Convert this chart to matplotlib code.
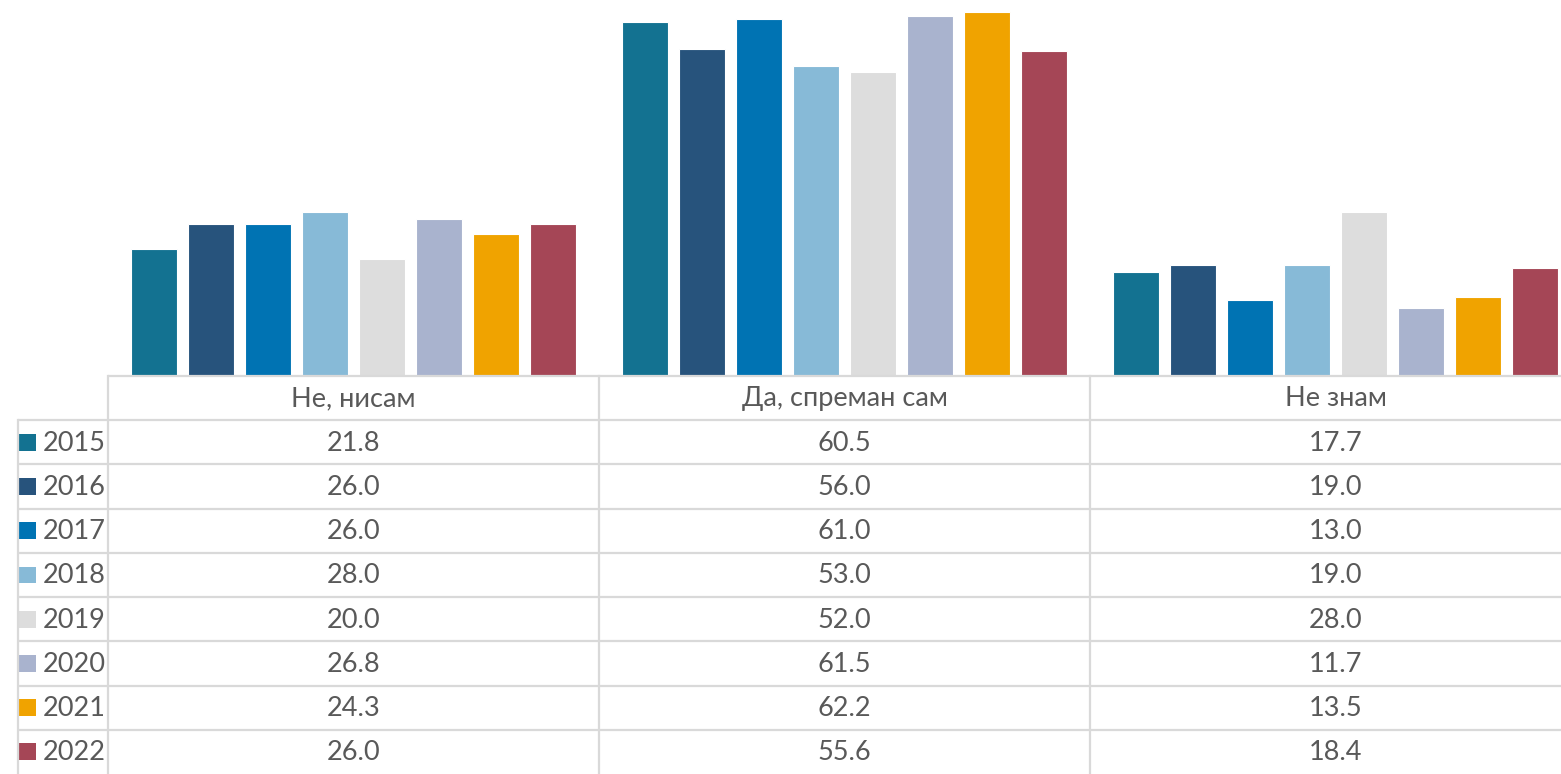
import matplotlib
matplotlib.use("Agg")
import matplotlib.pyplot as plt
import numpy as np

categories = ["Не, нисам", "Да, спреман сам", "Не знам"]
years = ["2015", "2016", "2017", "2018", "2019", "2020", "2021", "2022"]
ne_nisam = [21.8, 26.0, 26.0, 28.0, 20.0, 26.8, 24.3, 26.0]
da_spreman = [60.5, 56.0, 61.0, 53.0, 52.0, 61.5, 62.2, 55.6]
ne_znam = [17.7, 19.0, 13.0, 19.0, 28.0, 11.7, 13.5, 18.4]
colors = ["#137291", "#27537C", "#0073B3", "#87BAD7", "#DDDDDD", "#A9B3CE", "#F0A300", "#A54656"]

series = np.array([ne_nisam, da_spreman, ne_znam]).T  # rows = years

W, H = 1561, 774
fig = plt.figure(figsize=(W / 100, H / 100), dpi=100)
plt.rcParams['font.family'] = ['Lato', 'DejaVu Sans']

col_left_px = 108
col_w_px = 491
x0 = -0.5 - col_left_px / col_w_px
x1 = -0.5 + (W - col_left_px) / col_w_px

base_px = 376
# bar axes
axb = fig.add_axes([0, (H - base_px) / H, 1, base_px / H])
axb.set_xlim(x0, x1)
axb.set_ylim(0, 64.3)
axb.axis("off")
pitch = 57 / col_w_px
bw = 46 / col_w_px
n = len(years)
x = np.arange(len(categories))
for i, yr in enumerate(years):
    off = (i - (n - 1) / 2) * pitch
    axb.bar(x + off, series[i], width=bw, color=colors[i], edgecolor="white", linewidth=0.8)

# table axes
axt = fig.add_axes([0, 0, 1, (H - base_px) / H])
axt.set_xlim(x0, x1)
nrows = n + 1
axt.set_ylim(nrows, 0)
axt.axis("off")
lc = "#D9D9D9"
lw = 1.6
leg_left = x0 + 18 / col_w_px
# horizontal lines
axt.plot([-0.5, x1], [0, 0], color=lc, lw=lw, clip_on=False, solid_capstyle="butt")
for r in range(1, nrows):
    axt.plot([leg_left, x1], [r, r], color=lc, lw=lw, clip_on=False, solid_capstyle="butt")
# vertical lines
axt.plot([leg_left, leg_left], [1, nrows], color=lc, lw=lw, clip_on=False)
for c in range(len(categories)):
    axt.plot([c - 0.5, c - 0.5], [0, nrows], color=lc, lw=lw, clip_on=False)

tc = "#595959"
fs = 19.5
for c, cat in enumerate(categories):
    axt.text(c, 0.52, cat, ha="center", va="center", color=tc, fontsize=fs)
for i, yr in enumerate(years):
    yc = i + 1.52
    axt.text(x0 + 43 / col_w_px, yc, yr, ha="left", va="center", color=tc, fontsize=fs)
    axt.add_patch(plt.Rectangle((x0 + 18.5 / col_w_px, i + 1.5 - 0.19), 17 / col_w_px, 0.38,
                                color=colors[i], lw=0))
    for c in range(len(categories)):
        axt.text(c, yc, f"{series[i][c]:.1f}", ha="center", va="center", color=tc, fontsize=fs)

fig.savefig("out.png", dpi=100, facecolor="white")
